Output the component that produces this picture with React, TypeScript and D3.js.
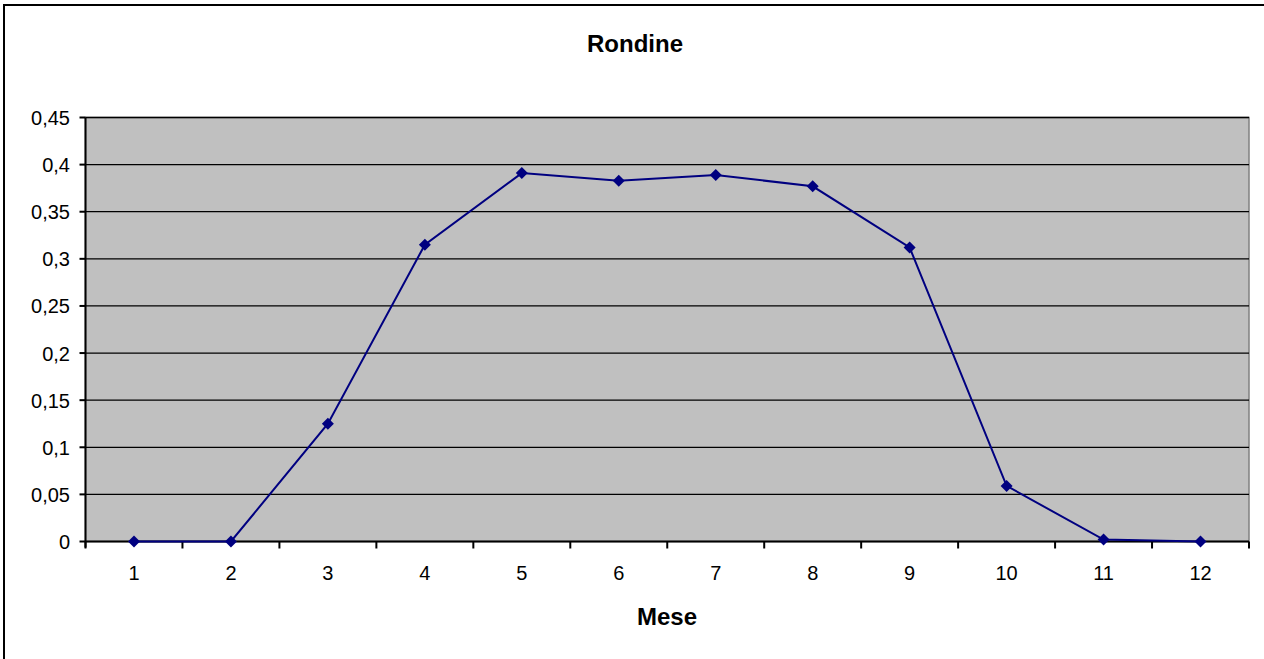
import React from "react";
import * as d3 from "d3";

const months = ["1", "2", "3", "4", "5", "6", "7", "8", "9", "10", "11", "12"];
const values = [0, 0, 0.125, 0.315, 0.391, 0.383, 0.389, 0.377, 0.312, 0.059, 0.002, 0];
const yTicks = [0, 0.05, 0.1, 0.15, 0.2, 0.25, 0.3, 0.35, 0.4, 0.45];
const title = "Rondine";
const xTitle = "Mese";

const W = 1264;
const H = 659;
const plot = { left: 85.5, right: 1249, top: 117.5, bottom: 541.5 };
const font = "'Liberation Sans', Arial, sans-serif";

export default function App() {
  const x = d3.scaleBand<string>().domain(months).range([plot.left, plot.right]);
  const y = d3.scaleLinear().domain([0, 0.45]).range([plot.bottom, plot.top]);
  const fmt = (v: number) => String(+v.toFixed(2)).replace(".", ",");
  const line = d3
    .line<number>()
    .x((_, i) => (x(months[i]) as number) + x.bandwidth() / 2)
    .y((d) => y(d));
  const boundaries = months.map((m) => x(m) as number).concat([plot.right]);

  return (
    <svg
      width={W}
      height={H}
      style={{ position: "fixed", left: 0, top: 0, background: "#fff" }}
      fontFamily={font}
    >
      <rect x={0} y={0} width={W} height={H} fill="#fff" />
      <rect x={4} y={5} width={W + 10} height={H + 10} fill="none" stroke="#000" strokeWidth={2} />
      <text x={635} y={52} textAnchor="middle" fontSize={24} fontWeight="bold">
        {title}
      </text>
      <rect
        x={plot.left}
        y={plot.top}
        width={plot.right - plot.left}
        height={plot.bottom - plot.top}
        fill="#C0C0C0"
        stroke="#808080"
        strokeWidth={1.5}
      />
      {yTicks.slice(1).map((t) => (
        <line key={"g" + t} x1={plot.left} x2={plot.right} y1={y(t)} y2={y(t)} stroke="#000" strokeWidth={1.3} />
      ))}
      <line x1={plot.left} x2={plot.left} y1={plot.top} y2={plot.bottom + 6} stroke="#000" strokeWidth={2} />
      <line x1={plot.left} x2={plot.right} y1={plot.bottom} y2={plot.bottom} stroke="#000" strokeWidth={2} />
      {yTicks.map((t) => (
        <g key={"y" + t}>
          <line x1={plot.left - 6} x2={plot.left} y1={y(t)} y2={y(t)} stroke="#000" strokeWidth={2} />
          <text x={70} y={y(t) + 7.5} textAnchor="end" fontSize={20}>
            {fmt(t)}
          </text>
        </g>
      ))}
      {boundaries.map((b, i) => (
        <line key={"xt" + i} x1={b} x2={b} y1={plot.bottom} y2={plot.bottom + 7} stroke="#000" strokeWidth={2} />
      ))}
      {months.map((m) => (
        <text key={"xl" + m} x={(x(m) as number) + x.bandwidth() / 2} y={580} textAnchor="middle" fontSize={20}>
          {m}
        </text>
      ))}
      <text x={667} y={625} textAnchor="middle" fontSize={24} fontWeight="bold">
        {xTitle}
      </text>
      <path d={line(values) || ""} fill="none" stroke="#000080" strokeWidth={2} />
      {values.map((v, i) => {
        const cx = (x(months[i]) as number) + x.bandwidth() / 2;
        const cy = y(v);
        const s = 6;
        return (
          <path
            key={"m" + i}
            d={`M${cx},${cy - s}L${cx + s},${cy}L${cx},${cy + s}L${cx - s},${cy}Z`}
            fill="#000080"
          />
        );
      })}
    </svg>
  );
}
